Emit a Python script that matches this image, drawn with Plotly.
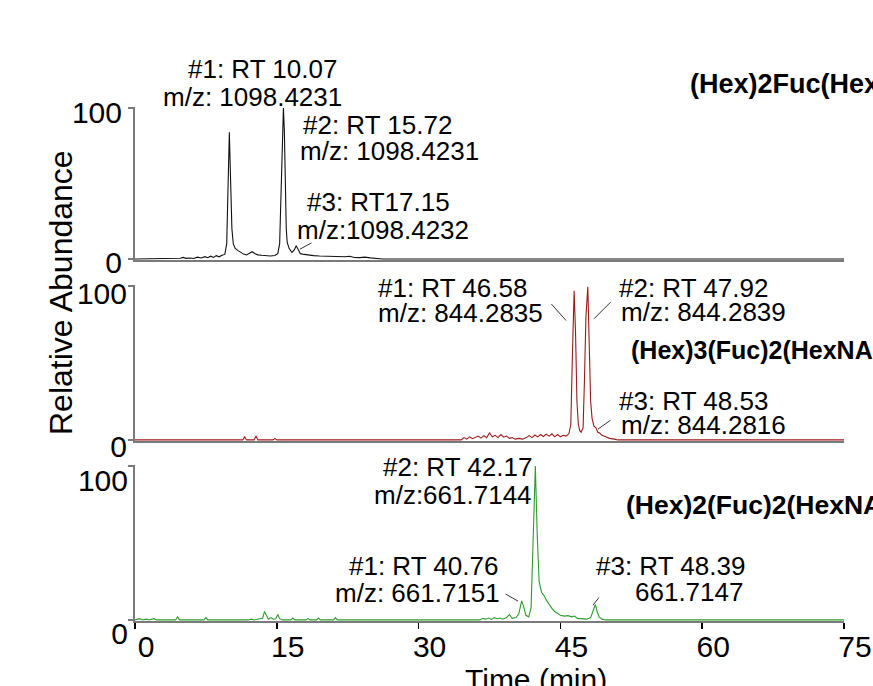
import plotly.graph_objects as go

# ---------------- data ----------------
# Panel 1: black trace, (Hex)2Fuc(Hex...
t1 = [0, 4.5, 4.8, 5.1, 5.4, 5.8, 6.2, 6.6, 7.0, 7.4, 7.7, 8.0, 8.3, 8.6, 8.9, 9.2, 9.5,
      9.7, 9.85, 9.98, 10.1, 10.25, 10.4, 10.6, 10.9, 11.2, 11.5, 11.8, 12.1, 12.4, 12.7,
      13.0, 13.4, 13.8, 14.3, 14.8, 15.1, 15.3, 15.45, 15.6, 15.7, 15.8, 15.9, 16.0, 16.1,
      16.3, 16.6, 16.85, 17.05, 17.25, 17.5, 17.9, 18.4, 18.9, 19.5, 20.2, 20.9, 21.6,
      22.2, 22.7, 23.2, 23.8, 24.3, 24.9, 25.5, 26.2, 75]
v1 = [0, 0, 0.5, 1.0, 0.4, 0.6, 0.3, 1.2, 0.6, 1.5, 0.8, 1.8, 1.0, 2.2, 1.4, 2.5, 3,
      10, 50, 84, 55, 20, 10, 7, 5.5, 4.3, 3.2, 2.6, 3.5, 4.8, 3.5,
      2.7, 2.4, 2.2, 2.0, 2.3, 3.5, 10, 45, 90, 100, 85, 45, 20, 11,
      7, 4.3, 6, 8.7, 6.5, 3.5, 3.0, 2.5, 2.2, 2.0, 1.8, 1.6, 1.4,
      1.5, 1.8, 1.0, 0.9, 1.2, 0.7, 0.3, 0, 0]

# Panel 2: dark red trace, (Hex)3(Fuc)2(HexNAc)
t2 = [0, 11.4, 11.6, 11.8, 12.6, 12.8, 13.0, 14.6, 14.8, 15.0, 34.5, 34.8, 35.1, 35.4,
      35.7, 36.0, 36.3, 36.6, 36.9, 37.2, 37.5, 37.8, 38.1, 38.4, 38.7, 39.0, 39.3, 39.6,
      39.9, 40.2, 40.6, 41.0, 41.4, 41.7, 42.0, 42.3, 42.6, 42.9, 43.2, 43.5, 43.8, 44.1,
      44.4, 44.7, 45.0, 45.3, 45.6, 45.9, 46.1, 46.25, 46.45, 46.6, 46.75, 46.9, 47.05,
      47.2, 47.4, 47.55, 47.7, 47.9, 48.05, 48.2, 48.35, 48.55, 48.75, 48.95, 49.15, 49.4,
      49.8, 50.2, 50.7, 51.1, 75]
v2 = [0, 0, 2, 0, 0, 2.5, 0, 0, 1, 0, 0, 1.5, 0.5, 2,
      0.8, 1.5, 2.5, 1.2, 2.8, 1.5, 4.5, 2, 3, 1.5, 3.5, 1.8, 2.5, 1,
      1.5, 0.5, 1, 0.5, 1.5, 2.8, 1.5, 3.2, 2, 3.5, 2.2, 3.8, 2.5, 4,
      2, 3.5, 2, 3, 2.5, 4, 10, 50, 97, 70, 25, 10, 6,
      5, 8, 40, 80, 99.5, 60, 25, 14, 9, 8, 5, 4.5, 3,
      2, 1, 0.5, 0, 0]

# Panel 3: green trace, (Hex)2(Fuc)2(HexNAc)
t3 = [0, 0.5, 0.8, 1.2, 1.5, 2.0, 2.3, 4.3, 4.5, 4.7, 7.3, 7.5, 7.7, 12.0, 12.3, 12.6,
      13.2, 13.5, 13.7, 13.9, 14.1, 14.4, 14.6, 14.9, 15.1, 15.3, 15.6, 16.5, 16.7, 16.9,
      18.1, 18.3, 18.5, 19.2, 19.4, 19.6, 21.0, 21.2, 21.4, 36.5, 36.8, 37.1, 37.4, 37.7,
      38.0, 38.3, 38.6, 38.9, 39.3, 39.6, 39.9, 40.3, 40.6, 40.9, 41.1, 41.35, 41.65,
      41.9, 42.1, 42.35, 42.55, 42.75, 43.0, 43.25, 43.5, 43.8, 44.1, 44.4, 44.7, 45.0,
      45.4, 45.8, 46.2, 46.5, 46.8, 47.3, 47.8, 48.2, 48.45, 48.7, 48.9, 49.1, 49.4,
      49.8, 75]
v3 = [0, 0.8, 0, 0.5, 0, 0.8, 0, 0, 2, 0, 0, 1.5, 0, 0, 0.5, 0,
      0.8, 1, 5.5, 3, 0.5, 1.5, 0.5, 0.8, 3.5, 0.8, 0, 0, 1.2, 0,
      0, 1, 0, 0, 1.2, 0, 0, 1.5, 0, 0, 1, 0.5, 1.2, 0.3,
      1.5, 0.8, 1.2, 0.5, 1.5, 3.5, 1, 1.5, 4, 12.4, 9, 3, 2,
      8, 50, 100, 55, 25, 18, 16, 13, 10, 7.5, 5.5, 4, 3,
      2.5, 2.8, 2, 2.5, 1, 0.8, 0.5, 1.5, 6, 10, 5, 2, 0.5,
      0, 0]

x_ticks = [0, 15, 30, 45, 60, 75]
x_tick_labels = ["0", "15", "30", "45", "60", "75"]
y_ticks = [0, 100]
y_tick_labels = ["0", "100"]

panel_titles = ["(Hex)2Fuc(HexNAc)", "(Hex)3(Fuc)2(HexNAc)", "(Hex)2(Fuc)2(HexNAc)"]
colors = ["#111111", "#9B1B1B", "#2E9B2E"]

# peak labels: (panel, text, x [min], y [rel. abundance units], xanchor)
peak_labels = [
    (1, "#1: RT 10.07", 13.45, 125.6, "center"),
    (1, "m/z: 1098.4231", 12.40, 107.6, "center"),
    (1, "#2: RT 15.72", 17.60, 88.7, "left"),
    (1, "m/z: 1098.4231", 17.25, 71.8, "left"),
    (1, "#3: RT17.15", 17.95, 37.8, "left"),
    (1, "m/z:1098.4232", 16.90, 18.9, "left"),
    (2, "#1: RT 46.58", 25.50, 98.9, "left"),
    (2, "m/z: 844.2835", 25.50, 82.7, "left"),
    (2, "#2: RT 47.92", 51.00, 98.9, "left"),
    (2, "m/z: 844.2839", 51.20, 83.3, "left"),
    (2, "#3: RT 48.53", 51.00, 25.0, "left"),
    (2, "m/z: 844.2816", 51.20, 9.6, "left"),
    (3, "#2: RT 42.17", 42.21, 99.5, "right"),
    (3, "m/z:661.7144", 42.21, 81.4, "right"),
    (3, "#1: RT 40.76", 38.57, 35.3, "right"),
    (3, "m/z: 661.7151", 38.81, 17.3, "right"),
    (3, "#3: RT 48.39", 64.79, 35.3, "right"),
    (3, "661.7147", 64.55, 17.9, "right"),
]
# leader lines: (panel, x, y, ax, ay)
leaders = [
    (1, 17.45, 6.5, 13, -7),
    (2, 45.6, 77.6, -16, -18),
    (2, 48.56, 78.8, 18, -18),
    (2, 48.98, 7.0, 14, -10),
    (3, 40.52, 12.2, -14, -8),
    (3, 48.45, 9.6, 7, -9),
]
# panel title positions (x [min], y [rel. abundance units] of each panel)
title_pos = [(58.5, 116.1), (52.3, 58.3), (51.7, 74.4)]
title_sizes = [27, 25, 26.5]

# ---------------- figure ----------------
W, H = 873, 686
FONT = "Liberation Sans, Arial, sans-serif"
GREY = "#7a7a7a"
Y_LO, Y_HI = -0.7, 100.7


def sfx(p):
    return "" if p == 1 else str(p)


fig = go.Figure()
for i, (tx, vy) in enumerate([(t1, v1), (t2, v2), (t3, v3)], start=1):
    fig.add_trace(go.Scatter(
        x=tx, y=vy, mode="lines",
        line=dict(color=colors[i - 1], width=1.1),
        xaxis=f"x{sfx(i)}", yaxis=f"y{sfx(i)}", showlegend=False, hoverinfo="skip"))

# plot area pixel geometry
left_px, right_px = 135, 844
domains_px = [(107, 260), (285, 441), (465, 621)]
shifts = [4, 7, 14]
standoffs = [0, -5, -6]

layout = dict(
    width=W, height=H,
    margin=dict(l=left_px, r=W - right_px, t=0, b=0, autoexpand=False),
    paper_bgcolor="white", plot_bgcolor="white",
    font=dict(family=FONT, color="black"),
    showlegend=False,
)
for i in range(1, 4):
    top, bot = domains_px[i - 1]
    xa = dict(
        domain=[0, 1], anchor=f"y{sfx(i)}", range=[0, 75],
        showline=True, linecolor=GREY, linewidth=2, layer="below traces",
        showgrid=False, zeroline=False,
    )
    if i < 3:
        xa.update(ticks="", showticklabels=False, matches="x3")
    else:
        xa.update(ticks="outside", ticklen=6, tickwidth=1.5, tickcolor="black",
                  tickvals=x_ticks, ticktext=x_tick_labels,
                  tickfont=dict(size=30, family=FONT), ticklabelshift=11,
                  ticklabelstandoff=-8)
    ya = dict(
        domain=[1 - bot / H, 1 - top / H], anchor=f"x{sfx(i)}", range=[Y_LO, Y_HI],
        showline=True, linecolor=GREY, linewidth=2, layer="below traces",
        showgrid=False, zeroline=False,
        ticks="outside", ticklen=5, tickwidth=1.5, tickcolor=GREY,
        tickvals=y_ticks, ticktext=y_tick_labels,
        tickfont=dict(size=30, family=FONT), ticklabelshift=shifts[i - 1],
        ticklabelstandoff=standoffs[i - 1],
    )
    layout[f"xaxis{sfx(i)}"] = xa
    layout[f"yaxis{sfx(i)}"] = ya


def yfrac(v):
    return (v - Y_LO) / (Y_HI - Y_LO)


annotations = []
for (p, txt, x, y, xa) in peak_labels:
    annotations.append(dict(
        xref=f"x{sfx(p)}", yref=f"y{sfx(p)} domain", x=x, y=yfrac(y), text=txt,
        showarrow=False, xanchor=xa, yanchor="middle",
        font=dict(size=26, family=FONT, color="black")))
for (p, x, y, ax, ay) in leaders:
    annotations.append(dict(
        xref=f"x{sfx(p)}", yref=f"y{sfx(p)}", x=x, y=y, text="", showarrow=True,
        arrowhead=0, arrowwidth=1, arrowcolor="#333333", ax=ax, ay=ay,
        standoff=0, startstandoff=0))
for p, (x, y) in enumerate(title_pos, start=1):
    annotations.append(dict(
        xref=f"x{sfx(p)}", yref=f"y{sfx(p)} domain", x=x, y=yfrac(y),
        text=f"<b>{panel_titles[p - 1]}</b>",
        showarrow=False, xanchor="left", yanchor="middle",
        font=dict(size=title_sizes[p - 1], family=FONT, color="black")))
annotations.append(dict(
    xref="paper", yref="paper", x=(61 - left_px) / (right_px - left_px), y=1 - 293 / H,
    text="Relative Abundance", textangle=-90, showarrow=False,
    xanchor="center", yanchor="middle", font=dict(size=32, family=FONT, color="black")))
annotations.append(dict(
    xref="paper", yref="paper", x=(536 - left_px) / (right_px - left_px), y=1 - 661 / H,
    text="Time (min)", showarrow=False,
    xanchor="center", yanchor="top", font=dict(size=30, family=FONT, color="black")))
layout["annotations"] = annotations

fig.update_layout(**layout)
fig.write_html("out.html",
               config={"displayModeBar": False, "staticPlot": True},
               post_script="document.body.style.margin='0px';"
                           "document.body.style.overflow='hidden';")
